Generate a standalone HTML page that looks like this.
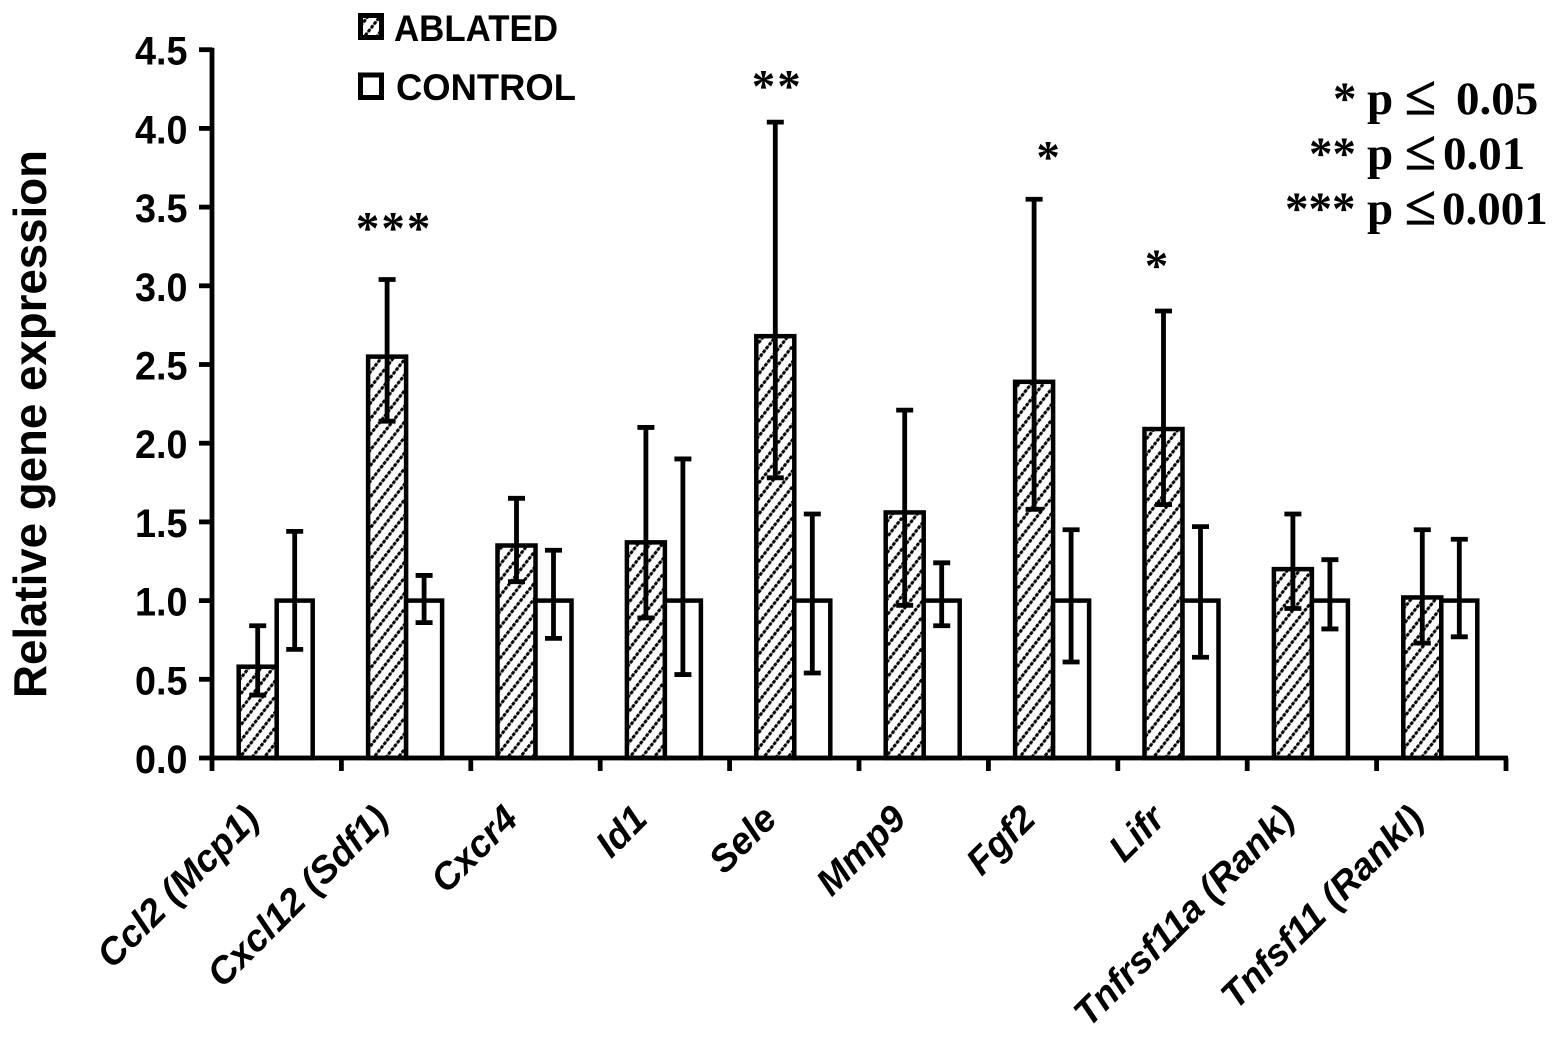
<!DOCTYPE html>
<html>
<head>
<meta charset="utf-8">
<style>
html,body{margin:0;padding:0;background:#fff;width:1559px;height:1044px;overflow:hidden}
svg{display:block}
text{fill:#000}
.sans{font-family:"Liberation Sans",sans-serif;font-weight:bold}
.serif{font-family:"Liberation Serif",serif;font-weight:bold}
.le{font-family:"Liberation Serif",serif;font-weight:normal;font-size:56px;stroke:#000;stroke-width:1.2px}
</style>
</head>
<body>
<svg id="chart" xmlns="http://www.w3.org/2000/svg" width="1559" height="1044" viewBox="0 0 1559 1044">
<defs>
<pattern id="hatch" patternUnits="userSpaceOnUse" width="9.6" height="9.6" patternTransform="rotate(-52)">
<rect width="9.6" height="9.6" fill="#fff"/>
<line x1="0" y1="2.5" x2="9.6" y2="2.5" stroke="#777" stroke-width="1.6"/>
<line x1="0" y1="2.5" x2="9.6" y2="2.5" stroke="#000" stroke-width="3" stroke-dasharray="3.2 1.6"/>
</pattern>
</defs>
<g id="bars"></g>
<g id="axes"></g>
<text class="sans" font-size="46.5" text-anchor="middle" textLength="548" lengthAdjust="spacingAndGlyphs" transform="translate(46,424) rotate(-90)">Relative gene expression</text>
<g>
<rect x="360.5" y="15.5" width="21" height="22" fill="url(#hatch)" stroke="#000" stroke-width="5"/>
<text class="sans" x="394" y="41" font-size="37" textLength="164" lengthAdjust="spacingAndGlyphs">ABLATED</text>
<rect x="360.5" y="75" width="21" height="22.5" fill="#fff" stroke="#000" stroke-width="5"/>
<text class="sans" x="396" y="100" font-size="37" textLength="180" lengthAdjust="spacingAndGlyphs">CONTROL</text>
</g>
<g class="serif" font-size="47">
<text y="114"><tspan x="1333">*</tspan><tspan x="1367">p</tspan><tspan class="le" x="1405">≤</tspan><tspan x="1456">0.05</tspan></text>
<text y="169"><tspan x="1309">**</tspan><tspan x="1367">p</tspan><tspan class="le" x="1405">≤</tspan><tspan x="1443">0.01</tspan></text>
<text y="224"><tspan x="1285">***</tspan><tspan x="1367">p</tspan><tspan class="le" x="1405">≤</tspan><tspan x="1442">0.001</tspan></text>
</g>
<g id="stars" class="serif" font-size="47" text-anchor="middle" letter-spacing="2"></g>
</svg>
<script>
const categories = ["Ccl2 (Mcp1)", "Cxcl12 (Sdf1)", "Cxcr4", "Id1", "Sele", "Mmp9", "Fgf2", "Lifr", "Tnfrsf11a (Rank)", "Tnfsf11 (Rankl)"];
const ablatedValues = [0.58, 2.55, 1.35, 1.37, 2.68, 1.56, 2.39, 2.09, 1.20, 1.02];
const ablatedErrorHigh = [0.84, 3.04, 1.65, 2.10, 4.04, 2.21, 3.55, 2.84, 1.55, 1.45];
const ablatedErrorLow = [0.40, 2.14, 1.12, 0.89, 1.78, 0.97, 1.58, 1.61, 0.95, 0.73];
const controlValues = [1.0, 1.0, 1.0, 1.0, 1.0, 1.0, 1.0, 1.0, 1.0, 1.0];
const controlErrorHigh = [1.44, 1.16, 1.32, 1.90, 1.55, 1.24, 1.45, 1.47, 1.26, 1.39];
const controlErrorLow = [0.69, 0.86, 0.76, 0.53, 0.54, 0.84, 0.61, 0.64, 0.82, 0.77];
const significance = ["", "***", "", "", "**", "", "*", "*", "", ""];
const significanceHeights = [0, 3.41, 0, 0, 4.31, 0, 3.86, 3.17, 0, 0];
const yTicks = ["0.0", "0.5", "1.0", "1.5", "2.0", "2.5", "3.0", "3.5", "4.0", "4.5"];

const NS = "http://www.w3.org/2000/svg";
const plotLeft = 212, plotRight = 1506, plotBottom = 758, unitHeight = 157.4, ablatedWidth = 38, controlWidth = 36;
function yScale(v) { return plotBottom - v * unitHeight; }
function xBand(i) { return plotLeft + (plotRight - plotLeft) / categories.length * i; }
function xCenter(i) { return xBand(i) + (plotRight - plotLeft) / categories.length / 2; }
function starNudge(i) {
  if (i === 1) return 7;
  if (i === 4) return 2;
  if (i === 6) return 15;
  if (i === 7) return -6;
  return 0;
}
function make(tag, parent, attrs) {
  const el = document.createElementNS(NS, tag);
  for (const k in attrs) el.setAttribute(k, attrs[k]);
  parent.appendChild(el);
  return el;
}
const barsG = document.getElementById("bars");
const axesG = document.getElementById("axes");
const starsG = document.getElementById("stars");

function drawBar(value, hi, lo, x, w, fill) {
  const bar = make("rect", barsG, {x: x, y: yScale(value), width: w, height: plotBottom - yScale(value), fill: fill, stroke: "#000", "stroke-width": 4.5});
  
  
  const cx = x + w / 2;
  const err = make("path", barsG, {d: "M" + cx + " " + yScale(hi) + "V" + yScale(lo) + "M" + (cx - 8.5) + " " + yScale(hi) + "H" + (cx + 8.5) + "M" + (cx - 8.5) + " " + yScale(lo) + "H" + (cx + 8.5), fill: "none", stroke: "#000", "stroke-width": 4.8});
  
  
}
categories.forEach(function (name, i) {
  const c = xCenter(i);
  drawBar(ablatedValues[i], ablatedErrorHigh[i], ablatedErrorLow[i], c - ablatedWidth, ablatedWidth, "url(#hatch)");
  drawBar(controlValues[i], controlErrorHigh[i], controlErrorLow[i], c, controlWidth, "#fff");

  const label = make("text", axesG, {class: "sans", "font-size": 37.5, "font-style": "italic", "text-anchor": "end", transform: "translate(" + (c - 15.5) + ",821) rotate(-45)"});
  
  
  label.textContent = name;

  if (significance[i]) {
    const star = make("text", starsG, {x: c - ablatedWidth / 2 + starNudge(i), y: yScale(significanceHeights[i]) + 22});
    
    
    star.textContent = significance[i];
  }
});
yTicks.forEach(function (t) {
  const y = yScale(parseFloat(t));
  const tick = make("line", axesG, {x1: plotLeft - 13, x2: plotLeft, y1: y, y2: y, stroke: "#000", "stroke-width": 4.8});
  
  
  const lab = make("text", axesG, {class: "sans", x: 135, y: y + 15, "font-size": 40, textLength: 52.5, lengthAdjust: "spacingAndGlyphs"});
  
  
  lab.textContent = t;
});
for (let i = 0; i <= categories.length; i++) {
  const tick = make("line", axesG, {x1: xBand(i), x2: xBand(i), y1: plotBottom, y2: plotBottom + 13, stroke: "#000", "stroke-width": 4.8});
  
  
}
const yAxis = make("line", axesG, {x1: plotLeft, x2: plotLeft, y1: yScale(4.5) - 2, y2: plotBottom + 2, stroke: "#000", "stroke-width": 4.8});


const xAxis = make("line", axesG, {x1: plotLeft - 2, x2: plotRight + 2, y1: plotBottom, y2: plotBottom, stroke: "#000", "stroke-width": 4.8});


</script>
</body>
</html>
